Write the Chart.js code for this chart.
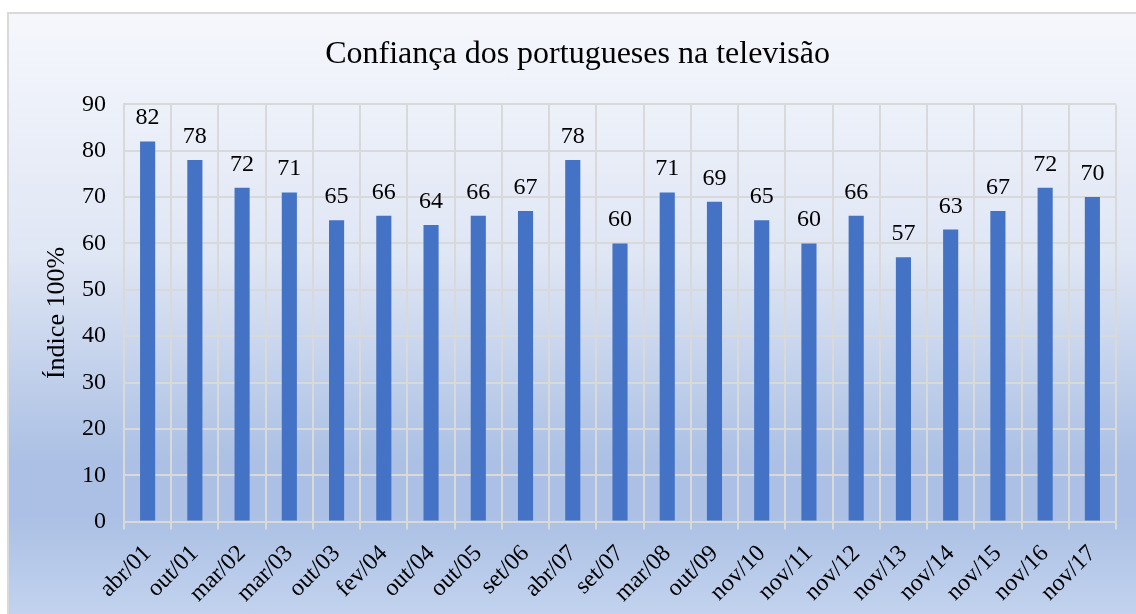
<!DOCTYPE html>
<html>
<head>
<meta charset="utf-8">
<script src="https://cdn.jsdelivr.net/npm/chart.js@4.4.0/dist/chart.umd.min.js"></script>
<style>
  html, body { margin: 0; padding: 0; background: #fff; overflow: hidden; }
  #box {
    position: absolute; left: 7px; top: 12px; width: 1136px; height: 606px;
    border: 2px solid #d9d9d9;
    background: linear-gradient(to bottom, #f5f7fc 0%, #dfe6f4 40%, #abc0e4 74%, #abc0e4 83%, #c4d4ef 100%);
  }
</style>
</head>
<body>
<div id="box"><canvas id="barchart"></canvas></div>
<script>
const labels = ['abr/01', 'out/01', 'mar/02', 'mar/03', 'out/03', 'fev/04', 'out/04', 'out/05', 'set/06', 'abr/07',
    'set/07', 'mar/08', 'out/09', 'nov/10', 'nov/11', 'nov/12', 'nov/13', 'nov/14', 'nov/15', 'nov/16', 'nov/17'];
const values = [82, 78, 72, 71, 65, 66, 64, 66, 67, 78, 60, 71, 69, 65, 60, 66, 57, 63, 67, 72, 70];
const yTicks = [0, 10, 20, 30, 40, 50, 60, 70, 80, 90];

const serif = 'Liberation Serif';

// draws the value above every bar
const barValues = {
    id: 'barValues',
    afterDatasetsDraw(chart) {
        const c = chart.ctx;
        const meta = chart.getDatasetMeta(0);
        c.save();
        c.font = '24px "' + serif + '"';
        c.fillStyle = '#000';
        c.textAlign = 'center';
        c.textBaseline = 'alphabetic';
        meta.data.forEach((bar, i) => {
            c.fillText(values[i], bar.x, bar.y - 17);
        });
        c.restore();
    }
};

const ctx = document.getElementById('barchart');

new Chart(ctx, {
    type: 'bar',
    data: {
        labels: labels,
        datasets: [{
            label: 'Índice',
            data: values,
            backgroundColor: '#4472c4',
            borderWidth: 0,
            categoryPercentage: 1,
            barPercentage: 0.32
        }]
    },
    options: {
        responsive: true,
        maintainAspectRatio: false,
        animation: false,
        layout: {
            padding: { left: 30, right: 29, top: 0, bottom: 2 }
        },
        plugins: {
            legend: { display: false },
            tooltip: { enabled: false },
            title: {
                display: true,
                text: 'Confiança dos portugueses na televisão',
                color: '#000',
                font: { family: serif, size: 32, weight: 'normal' },
                padding: { top: 21, bottom: 31 }
            }
        },
        scales: {
            x: {
                offset: true,
                grid: {
                    offset: true,
                    color: '#d9d9d9',
                    lineWidth: 2,
                    tickLength: 8
                },
                border: { color: '#d9d9d9', width: 2 },
                ticks: {
                    color: '#000',
                    font: { family: serif, size: 24 },
                    minRotation: 45,
                    maxRotation: 45,
                    autoSkip: false,
                    padding: 10
                }
            },
            y: {
                min: 0,
                max: 90,
                afterBuildTicks(axis) {
                    axis.ticks = yTicks.map(v => ({ value: v }));
                },
                afterFit(axis) {
                    axis.width = 85;
                },
                grid: {
                    color: '#d9d9d9',
                    lineWidth: 2,
                    drawTicks: false
                },
                border: { color: '#d9d9d9', width: 2 },
                ticks: {
                    color: '#000',
                    font: { family: serif, size: 24 },
                    padding: 18
                },
                title: {
                    display: true,
                    text: 'Índice 100%',
                    color: '#000',
                    font: { family: serif, size: 26 },
                    padding: { top: 3, bottom: 9 }
                }
            }
        }
    },
    plugins: [barValues]
});
</script>
</body>
</html>
